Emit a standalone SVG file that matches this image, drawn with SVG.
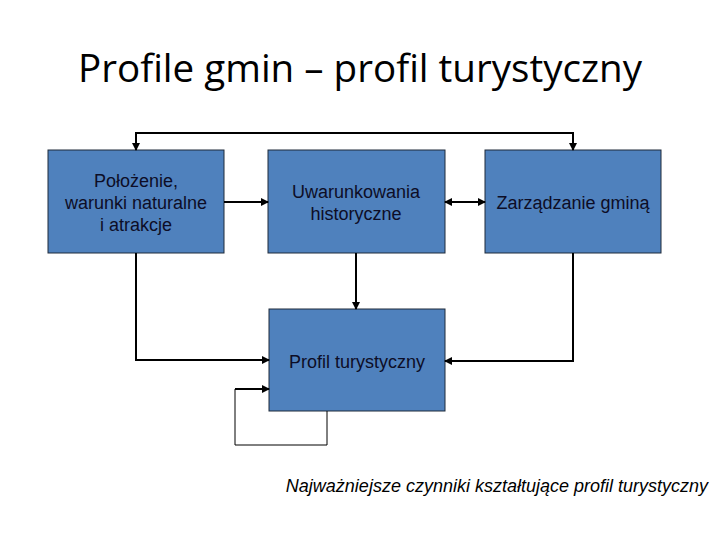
<svg xmlns="http://www.w3.org/2000/svg" width="720" height="540" viewBox="0 0 720 540">
<style>
.box{fill:#4f81bd;stroke:#1f2a3a;stroke-width:1}
.t{font-family:"Liberation Sans",Arial,sans-serif;font-size:18px;fill:#0d0d26;text-anchor:middle}
.c{fill:none;stroke:#000;stroke-width:2}
.thin{fill:none;stroke:#000;stroke-width:1}
</style>
<defs>
<marker id="a" markerWidth="8" markerHeight="8" refX="7" refY="4" orient="auto" markerUnits="userSpaceOnUse">
<path d="M0,0 L8,4 L0,8 z" fill="#000"/>
</marker>
<marker id="s" markerWidth="8" markerHeight="8" refX="1" refY="4" orient="auto" markerUnits="userSpaceOnUse">
<path d="M8,0 L0,4 L8,8 z" fill="#000"/>
</marker>
</defs>
<rect width="720" height="540" fill="#fff"/>
<text x="360" y="82" font-family="'Open Sans','Noto Sans',sans-serif" font-size="38" text-anchor="middle" fill="#000" textLength="564" lengthAdjust="spacingAndGlyphs">Profile gmin – profil turystyczny</text>
<g id="n1">
<rect class="box" x="48" y="150" width="176" height="103"/>
<text class="t" x="136" y="187">Położenie,</text>
<text class="t" x="136" y="209">warunki naturalne</text>
<text class="t" x="136" y="231">i atrakcje</text>
</g>
<g id="n2">
<rect class="box" x="268" y="150" width="177" height="103"/>
<text class="t" x="356" y="198">Uwarunkowania</text>
<text class="t" x="356" y="220">historyczne</text>
</g>
<g id="n3">
<rect class="box" x="485" y="150" width="176" height="103"/>
<text class="t" x="573" y="209">Zarządzanie gminą</text>
</g>
<g id="n4">
<rect class="box" x="269" y="309" width="176" height="102"/>
<text class="t" x="357" y="368">Profil turystyczny</text>
</g>
<g id="connectors">
<path class="c" d="M136,150 V133 H573 V150" marker-start="url(#s)" marker-end="url(#a)"/>
<path class="c" d="M224,202 H268" marker-end="url(#a)"/>
<path class="c" d="M445,202 H485" marker-start="url(#s)" marker-end="url(#a)"/>
<path class="c" d="M356,253 V309" marker-end="url(#a)"/>
<path class="c" d="M136,253 V360 H269" marker-end="url(#a)"/>
<path class="c" d="M573,253 V361 H445" marker-end="url(#a)"/>
<path class="thin" d="M327,411 V445 H235 V389 H269"/>
<path class="c" d="M235,389 H269" marker-end="url(#a)"/>
</g>
<text x="708" y="492" font-family="'Liberation Sans',Arial,sans-serif" font-size="18" font-style="italic" text-anchor="end" fill="#000">Najważniejsze czynniki kształtujące profil turystyczny</text>
</svg>
